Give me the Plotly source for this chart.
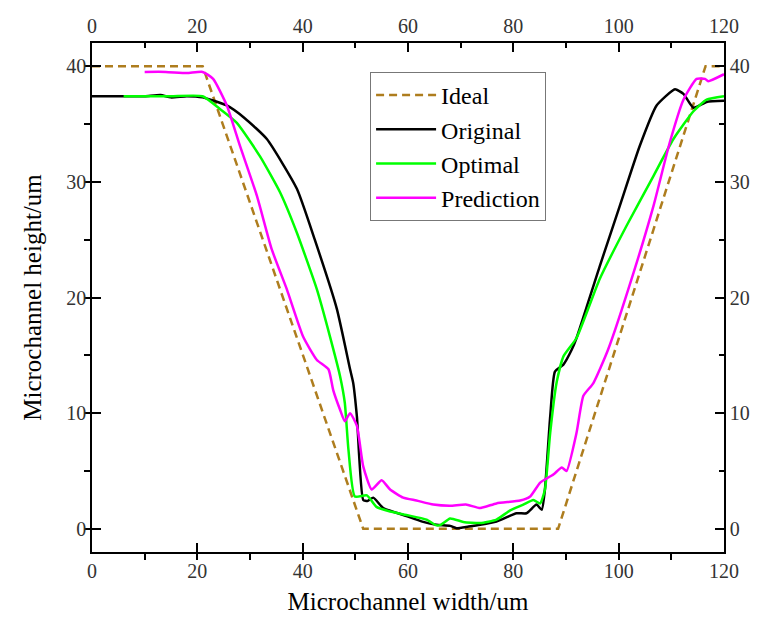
import plotly.graph_objects as go

ideal_x = [0, 21, 51.5, 88.5, 116.5, 120]
ideal_y = [40, 40, 0, 0, 40, 40]

orig_x = [0, 5, 10, 13, 15, 18, 21, 25.6, 29, 33.2, 38.9, 42.3, 46.5, 49.0, 49.6, 50.3, 51.5, 52.3, 53.4, 55.3, 59.1,
          62.9, 65.4, 68, 69.2, 71.5, 73.7, 76.8, 80.6, 82.5, 84.4, 85.4, 86.0, 87.0, 87.9, 89.5, 91.1, 92.0, 96.4,
          100.2, 104.0, 107.2, 110.7, 112.3, 114.2, 116.7, 120]
orig_y = [37.4, 37.4, 37.4, 37.5, 37.3, 37.4, 37.3, 36.6, 35.5, 33.7, 29.4, 25.0, 19.0, 13.8, 12.6, 9.7, 2.5, 2.4, 2.7,
          1.8, 1.2, 0.6, 0.35, 0.26, 0.06, 0.2, 0.35, 0.63, 1.35, 1.35, 2.1, 1.65, 3.4, 9.7, 13.6, 14.2, 15.5, 16.5,
          22.7, 27.9, 33.1, 36.6, 38.0, 37.6, 36.4, 36.9, 37.0]

opt_x = [6, 10, 15, 21, 24.3, 27.5, 31.9, 35.7, 38.9, 42.7, 45.2, 47.1, 48.0, 48.7, 49.9, 52.2, 54.0, 56.6, 59.7,
         63.5, 65.4, 66.2, 68.0, 70.5, 73.7, 76.8, 79.4, 81.9, 83.8, 85.1, 86.0, 87.0, 88.2, 89.5, 92.0, 96.4,
         101.5, 106.6, 110.4, 114.2, 116.7, 120]
opt_y = [37.4, 37.4, 37.4, 37.4, 36.3, 35.1, 32.2, 29.1, 25.6, 20.7, 16.6, 13.2, 10.9, 6.8, 2.8, 2.9, 1.9, 1.5, 1.2,
         0.8, 0.3, 0.35, 0.9, 0.6, 0.5, 0.8, 1.6, 2.1, 2.5, 2.2, 3.4, 8.3, 12.6, 14.9, 16.5, 21.6,
         26.2, 30.5, 33.7, 36.1, 37.1, 37.4]

pred_x = [10, 14, 18, 21, 23.0, 25.6, 28.1, 31.3, 34.1, 37.0, 40.1, 42.7, 44.9, 45.8, 47.1, 48.0, 49.0, 50.3, 51.5,
          53.1, 55.0, 56.6, 59.1, 61.6, 64.8, 68.0, 71, 73.7, 76.8, 81.3, 83.2, 85.1, 87.6, 89.2, 90.1, 92.0, 93.3,
          95.2, 98.0, 102.8, 106.6, 109.7, 112.3, 114.8, 116.4, 117.0, 120]
pred_y = [39.5, 39.5, 39.4, 39.5, 38.9, 36.6, 33.1, 28.8, 24.2, 20.7, 16.6, 14.6, 13.8, 12.0, 10.3, 9.3, 10.0, 8.9, 5.4,
          3.4, 4.2, 3.4, 2.7, 2.45, 2.1, 2.0, 2.1, 1.8, 2.2, 2.45, 2.8, 4.0, 4.7, 5.3, 5.0, 8.3, 11.5,
          12.6, 15.5, 22.1, 27.9, 33.4, 37.1, 38.9, 38.9, 38.7, 39.3]

x_tick_step = 20
y_tick_step = 10

FONT = "Liberation Serif, Times New Roman, serif"
TICK_FONT = dict(family=FONT, size=20, color="#333")

fig = go.Figure()
fig.add_trace(go.Scatter(x=ideal_x, y=ideal_y, name="Ideal", mode="lines",
                         line=dict(color="#AE7D1E", width=2.5, dash="8px,5px")))
fig.add_trace(go.Scatter(x=orig_x, y=orig_y, name="Original", mode="lines",
                         line=dict(color="#000000", width=2.5, shape="spline", smoothing=0.5)))
fig.add_trace(go.Scatter(x=opt_x, y=opt_y, name="Optimal", mode="lines",
                         line=dict(color="#00FF00", width=2.5, shape="spline", smoothing=0.5)))
fig.add_trace(go.Scatter(x=pred_x, y=pred_y, name="Prediction", mode="lines",
                         line=dict(color="#FF00FF", width=2.5, shape="spline", smoothing=0.5)))
# invisible trace to activate top/right axes
fig.add_trace(go.Scatter(x=[0, 120], y=[0, 0], xaxis="x2", yaxis="y2", mode="lines",
                         line=dict(width=0), showlegend=False, hoverinfo="skip", opacity=0))

fig.update_layout(
    width=751, height=615,
    margin=dict(l=84, r=35, t=35, b=71, autoexpand=False),
    paper_bgcolor="white", plot_bgcolor="white",
    font=dict(family=FONT, color="black"),
    legend=dict(x=0.44, y=0.943, xanchor="left", yanchor="top",
                bgcolor="white", bordercolor="#777", borderwidth=1,
                font=dict(family=FONT, size=24, color="black"),
                itemwidth=60, tracegroupgap=0),
    showlegend=True,
)

# bottom axis
fig.update_xaxes(range=[0, 120], tickmode="linear", tick0=0, dtick=x_tick_step,
                 showline=True, linecolor="black", linewidth=1.5, showgrid=False, zeroline=False,
                 ticks="inside", ticklen=9, tickwidth=2, tickcolor="#000000", tickfont=TICK_FONT,
                 minor=dict(ticks="outside", ticklen=6, dtick=x_tick_step / 2, tickcolor="#000000", tickwidth=2),
                 title=dict(text="Microchannel width/um", font=dict(family=FONT, size=25), standoff=12),
                 selector=dict(overlaying=None), row=None, col=None)
# left axis
fig.update_yaxes(range=[-2, 42], tickmode="linear", tick0=0, dtick=y_tick_step,
                 showline=True, linecolor="black", linewidth=1.5, showgrid=False,
                 zeroline=True, zerolinecolor="rgba(0,0,0,0)",
                 ticks="inside", ticklen=9, tickwidth=2, tickcolor="#000000", tickfont=TICK_FONT,
                 minor=dict(ticks="outside", ticklen=6, dtick=y_tick_step / 2, tickcolor="#000000", tickwidth=2),
                 title=dict(text="Microchannel height/um", font=dict(family=FONT, size=25), standoff=18))
fig.update_layout(
    xaxis2=dict(range=[0, 120], tickmode="linear", tick0=0, dtick=x_tick_step, overlaying="x", side="top",
                showline=True, linecolor="black", linewidth=1.5, showgrid=False, zeroline=False,
                ticks="inside", ticklen=9, tickwidth=2, tickcolor="#000000", tickfont=TICK_FONT,
                minor=dict(ticks="inside", ticklen=5, dtick=x_tick_step / 2, tickcolor="#000000", tickwidth=2)),
    yaxis2=dict(range=[-2, 42], tickmode="linear", tick0=0, dtick=y_tick_step, overlaying="y", side="right",
                showline=True, linecolor="black", linewidth=1.5, showgrid=False, zeroline=False,
                ticks="inside", ticklen=9, tickwidth=2, tickcolor="#000000", tickfont=TICK_FONT,
                minor=dict(ticks="inside", ticklen=5, dtick=y_tick_step / 2, tickcolor="#000000", tickwidth=2)),
)

fig.write_html("out.html")
